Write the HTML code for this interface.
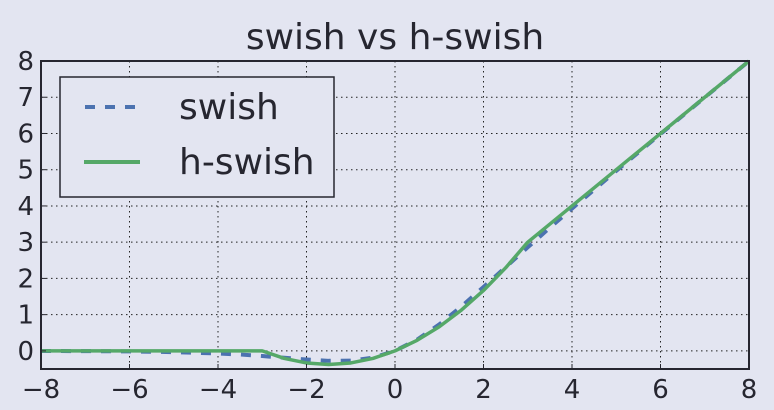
<!DOCTYPE html>
<html><head><meta charset="utf-8"><style>
html,body{margin:0;padding:0;background:#e3e5f1;}
svg{display:block;font-family:"DejaVu Sans","Liberation Sans",sans-serif;}
</style></head><body>
<svg id="chart" width="774" height="410">
<rect width="774" height="410" fill="#e3e5f1"/>
<text x="395" y="49" font-size="36" fill="#262630" text-anchor="middle">swish vs h-swish</text>
<g id="grid"></g><g id="series"></g><g id="axes"></g>
<g>
<rect x="60" y="77" width="274" height="120" fill="#e3e5f1" stroke="#262630" stroke-width="1.5"/>
<line x1="85" y1="107" x2="140" y2="107" stroke="#4c72b0" stroke-width="4" stroke-dasharray="10,10"/>
<text x="179" y="119" font-size="36" fill="#262630">swish</text>
<line x1="84" y1="162" x2="140" y2="162" stroke="#55a868" stroke-width="4"/>
<text x="179" y="174" font-size="36" fill="#262630">h-swish</text>
</g>
</svg>
<script>
const xs = [-8,-7,-6,-5,-4,-3.5,-3,-2.5,-2,-1.5,-1,-0.5,0,0.5,1,1.5,2,2.5,3,3.5,4,5,6,7,8];
const swishVals = [-0.003,-0.006,-0.015,-0.034,-0.072,-0.1,-0.142,-0.19,-0.238,-0.274,-0.269,-0.189,0,0.311,0.731,1.226,1.762,2.31,2.858,3.4,3.928,4.967,5.985,6.994,7.997];
const hswishVals = [0,0,0,0,0,0,0,-0.208,-0.333,-0.375,-0.333,-0.208,0,0.292,0.667,1.125,1.667,2.292,3,3.5,4,5,6,7,8];
const xTicks = [-8,-6,-4,-2,0,2,4,6,8];
const xTickLabels = ["\u22128","\u22126","\u22124","\u22122","0","2","4","6","8"];
const yTicks = [0,1,2,3,4,5,6,7,8];
const yTickLabels = ["0","1","2","3","4","5","6","7","8"];

const L=41,R=749,T=61,B=369;
const xMin=-8,xMax=8,yMin=-0.5,yMax=8;
const sx=v=>L+(v-xMin)/(xMax-xMin)*(R-L);
const sy=v=>B-(v-yMin)/(yMax-yMin)*(B-T);
const NS="http://www.w3.org/2000/svg";
function mk(tag,attrs,parent){const e=document.createElementNS(NS,tag);for(const k in attrs)e.setAttribute(k,attrs[k]);parent.appendChild(e);return e;}
const grid=document.getElementById('grid'),axes=document.getElementById('axes'),series=document.getElementById('series');
xTicks.forEach((t,i)=>{
  const g=mk('line',{x1:sx(t),x2:sx(t),y1:T,y2:B,stroke:'#222',"stroke-width":1,"stroke-dasharray":"1.5,3.5"},grid);
  
  
  const tk=mk('line',{x1:sx(t),x2:sx(t),y1:B,y2:B-5,stroke:'#262630',"stroke-width":1},axes);
  
  
  const lb=mk('text',{x:sx(t),y:398,"font-size":26,fill:'#262630',"text-anchor":'middle'},axes);
  lb.textContent=xTickLabels[i];
  
  
});
yTicks.forEach((t,i)=>{
  const g=mk('line',{x1:L,x2:R,y1:sy(t),y2:sy(t),stroke:'#222',"stroke-width":1,"stroke-dasharray":"1.5,3.5"},grid);
  
  
  const tk=mk('line',{x1:L,x2:L+5,y1:sy(t),y2:sy(t),stroke:'#262630',"stroke-width":1},axes);
  
  
  const lb=mk('text',{x:34,y:sy(t)+9,"font-size":26,fill:'#262630',"text-anchor":'end'},axes);
  lb.textContent=yTickLabels[i];
  
  
});
const frame=mk('rect',{x:L,y:T,width:R-L,height:B-T,fill:'none',stroke:'#262630',"stroke-width":2},axes);


const pts=v=>xs.map((x,i)=>sx(x)+','+sy(v[i])).join(' ');
const s1=mk('polyline',{points:pts(swishVals),fill:'none',stroke:'#4c72b0',"stroke-width":4,"stroke-dasharray":"10,10"},series);


const s2=mk('polyline',{points:pts(hswishVals),fill:'none',stroke:'#55a868',"stroke-width":3.5,"stroke-linejoin":"round"},series);


</script>
</body></html>
